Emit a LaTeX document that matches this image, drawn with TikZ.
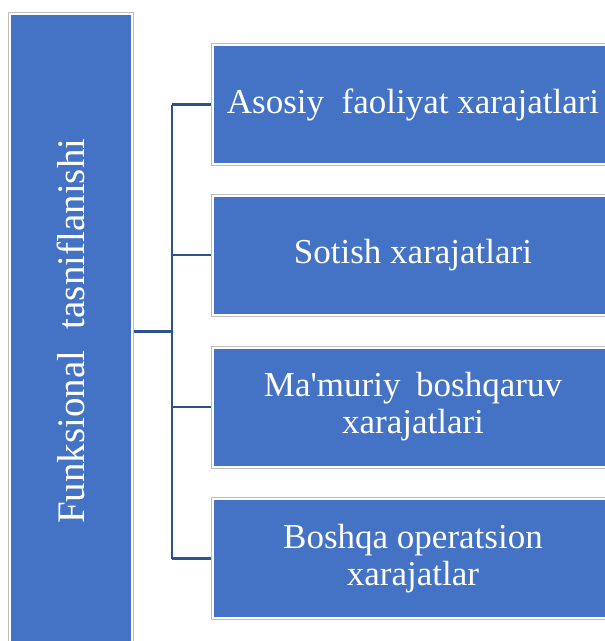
\documentclass[tikz,border=0pt]{standalone}
\usepackage{fontspec}
\setmainfont{Liberation Serif}
\usetikzlibrary{calc}
\definecolor{boxblue}{HTML}{4472C4}
\definecolor{linkblue}{HTML}{2F528F}
\definecolor{framegray}{HTML}{BFBFBF}
\tikzset{
  box/.style={rectangle, fill=boxblue, draw=none, inner sep=0pt, outer sep=0pt,
    text=white, align=center, font=\fontsize{35}{37}\selectfont},
  sidebox/.style={box, rotate=90, font=\fontsize{39}{42}\selectfont},
  frame/.style={draw=framegray, line width=0.9pt},
  link/.style={draw=linkblue, line width=2.7pt}
}
\begin{document}
\begin{tikzpicture}[x=1pt, y=-1pt]
\useasboundingbox (0,0) rectangle (605,641);
\clip (0,0) rectangle (605,641);
% left box
\node[sidebox, minimum width=633.5pt, minimum height=120pt] (L) at (71,331.25)
  {Funksional\hspace{0.3em} tasniflanishi};
\draw[frame] (8.5,12) -- (8.5,660) (133.5,12) -- (133.5,660) (8.5,12) -- (133.5,12);
% right boxes
\foreach \n/\y/\t in {b1/104.5/{Asosiy\hspace{0.25em} faoliyat xarajatlari},
                      b2/255/{Sotish xarajatlari},
                      b3/407/{Ma\textquotesingle muriy\hspace{0.2em} boshqaruv\\xarajatlari},
                      b4/558.5/{Boshqa operatsion\\xarajatlar}} {
  \node[box, minimum width=398pt, minimum height=117pt] (\n) at (413,\y) {\t};
  \draw[frame] ($(\n.north west)+(-2.5,-2.5)$) rectangle ($(\n.south east)+(2.5,2.5)$);
}
% connectors
\coordinate (J) at (172,331.25);
\draw[link] (L.south) ++(2.5,0) -- (J);
\draw[link] (J |- b1.west) -- (J |- b4.west);
\foreach \n in {b1,b2,b3,b4} {
  \draw[link] (J |- \n.west) -- ($(\n.west)+(-3,0)$);
}
\end{tikzpicture}
\end{document}
